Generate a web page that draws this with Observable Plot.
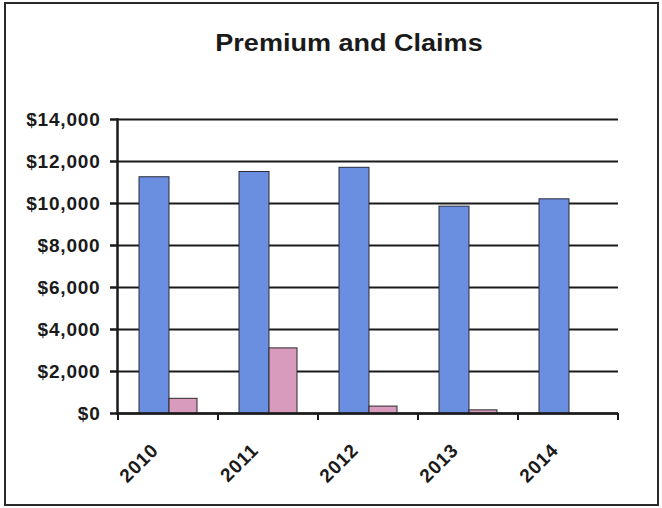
<!DOCTYPE html>
<html>
<head>
<meta charset="utf-8">
<script src="https://cdn.jsdelivr.net/npm/d3@7"></script>
<script src="https://cdn.jsdelivr.net/npm/@observablehq/plot@0.6"></script>
<style>
  html, body { margin: 0; padding: 0; background: #fff; }
  #wrap { position: relative; width: 662px; height: 508px; overflow: hidden; background: #fff; }
  #frame { position: absolute; left: 4px; top: 2px; width: 655px; height: 504px; box-sizing: border-box; border: 2px solid #2a2a2a; }
  #title { position: absolute; top: 30px; left: -1px; width: 700px; text-align: center; font: bold 23.5px "Liberation Sans", Arial, sans-serif; color: #1a1a1a; transform: scaleX(1.15); transform-origin: 350px 0; }
  #chart { position: absolute; left: 0; top: 0; }
  #chart svg text { letter-spacing: 0.8px; }
</style>
</head>
<body>
<div id="wrap">
  <div id="frame"></div>
  <div id="title">Premium and Claims</div>
  <div id="chart"></div>
</div>
<script>
const years = ["2010", "2011", "2012", "2013", "2014"];
const premium = [11250, 11500, 11700, 9850, 10200];
const claims = [700, 3100, 330, 150, 0];
const yTicks = [0, 2000, 4000, 6000, 8000, 10000, 12000, 14000];

const data = years.map((y, i) => ({year: y, premium: premium[i], claims: claims[i]}));

const W = 662, H = 508, ML = 117, MR = 44, MT = 119, MB = 95;
const fmt = d3.format(",");

const chart = Plot.plot({
  width: W,
  height: H,
  marginLeft: ML,
  marginRight: MR,
  marginTop: MT,
  marginBottom: MB,
  style: {fontFamily: "Liberation Sans, Arial, sans-serif", fontWeight: "bold", fontSize: "19px", color: "#1a1a1a", background: "transparent"},
  x: {type: "band", domain: years, padding: 0, label: null, axis: null},
  y: {domain: [0, 14000], label: null},
  marks: [
    Plot.ruleY(yTicks, {stroke: "#1a1a1a", strokeWidth: 2}),
    Plot.barY(data, {x: "year", y: "premium", fill: "#6a8fe0", stroke: "#2a2a3a", strokeWidth: 1, insetLeft: 21, insetRight: 49}),
    Plot.barY(data, {x: "year", y: "claims", fill: "#d99bbd", stroke: "#2a2a2a", strokeWidth: 1, insetLeft: 51, insetRight: 21}),
    Plot.ruleY([0], {stroke: "#1a1a1a", strokeWidth: 2.5}),
    Plot.frame({anchor: "left", stroke: "#1a1a1a", strokeWidth: 2.5}),
    Plot.axisY({ticks: yTicks, tickSize: 7, tickPadding: 10, strokeWidth: 2.5, tickFormat: d => "$" + fmt(d), fontSize: 19, fontWeight: "bold", label: null}),
    Plot.text(data, {x: "year", frameAnchor: "bottom", text: "year", rotate: -45, textAnchor: "end", lineAnchor: "bottom", dx: -9, dy: 38, fontSize: 19, fontWeight: "bold", fill: "#1a1a1a"})
  ]
});
document.getElementById("chart").appendChild(chart);

// category separator ticks on the x axis, placed from Plot's own scales
const xs = chart.scale("x"), ys = chart.scale("y");
const y0 = ys.apply(0);
const edges = years.map(y => xs.apply(y)).concat([xs.apply(years[years.length - 1]) + xs.bandwidth]);
d3.select(chart).append("g").selectAll("line").data(edges).join("line")
  .attr("x1", d => d).attr("x2", d => d)
  .attr("y1", y0).attr("y2", y0 + 7)
  .attr("stroke", "#1a1a1a").attr("stroke-width", 2);
</script>
</body>
</html>
